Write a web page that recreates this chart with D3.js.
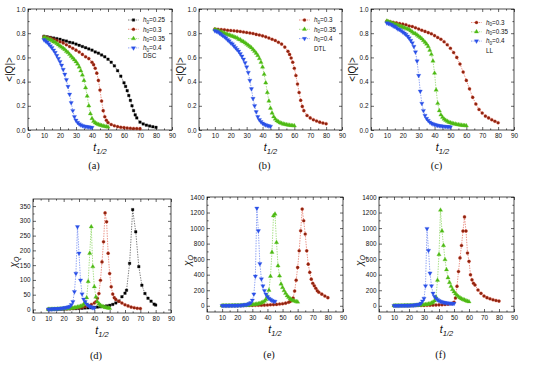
<!DOCTYPE html>
<html>
<head>
<meta charset="utf-8">
<script src="https://cdn.jsdelivr.net/npm/d3@7"></script>
<style>
  body { margin: 0; background: #fff; }
  svg { display: block; font-family: "Liberation Sans", Arial, sans-serif; }
</style>
</head>
<body>
<svg id="fig" width="550" height="365"></svg>
<script>
// ---- data: [t_1/2, value] ----
// (a) DSC  <|Q|>
const dscQ025 = [[10,.775],[12,.77],[14,.765],[16,.76],[18,.755],[20,.75],[22,.74],[24,.735],[26,.725],[28,.72],[30,.71],[32,.70],[34,.69],[36,.68],[38,.67],[40,.66],[42,.645],[44,.635],[46,.62],[48,.605],[50,.585],[52,.56],[54,.53],[56,.49],[58,.445],[60,.39],[61,.36],[62,.325],[63,.285],[64,.245],[65,.2],[66,.16],[67,.125],[68,.1],[70,.065],[72,.05],[74,.04],[76,.033],[78,.027],[80,.022]];
const dscQ030 = [[10,.77],[12,.765],[14,.76],[16,.75],[18,.74],[20,.73],[22,.72],[24,.705],[26,.69],[28,.675],[30,.66],[32,.645],[34,.625],[36,.605],[38,.59],[40,.56],[41,.54],[42,.51],[43,.47],[44,.41],[45,.33],[46,.24],[47,.16],[48,.11],[49,.08],[50,.062],[52,.045],[54,.035],[56,.028],[58,.023],[60,.02],[62,.017],[64,.015],[66,.013],[68,.012],[70,.011]];
const dscQ035 = [[10,.765],[11,.76],[12,.755],[13,.75],[14,.745],[15,.74],[16,.73],[17,.725],[18,.715],[19,.705],[20,.695],[21,.685],[22,.675],[23,.665],[24,.65],[25,.64],[26,.625],[27,.61],[28,.595],[29,.58],[30,.565],[31,.545],[32,.52],[33,.49],[34,.455],[35,.41],[36,.35],[37,.28],[38,.2],[39,.135],[40,.095],[41,.072],[42,.06],[43,.052],[44,.046],[45,.041],[46,.037],[47,.033],[48,.03],[49,.027],[50,.025]];
const dscQ040 = [[10,.745],[11,.735],[12,.725],[13,.71],[14,.695],[15,.68],[16,.66],[17,.64],[18,.615],[19,.59],[20,.565],[21,.535],[22,.5],[23,.46],[24,.415],[25,.36],[26,.295],[27,.225],[28,.16],[29,.11],[30,.08],[31,.062],[32,.05],[33,.042],[34,.036],[35,.032],[36,.029],[37,.026],[38,.024],[39,.022],[40,.02]];

// (b) DTL  <|Q|>
const dtlQ030 = [[10,.835],[12,.832],[14,.83],[16,.828],[18,.825],[20,.822],[22,.82],[24,.817],[26,.814],[28,.81],[30,.806],[32,.802],[34,.797],[36,.79],[38,.785],[40,.778],[42,.77],[44,.76],[46,.75],[48,.74],[50,.725],[52,.71],[54,.685],[56,.65],[57,.625],[58,.595],[59,.56],[60,.51],[61,.45],[62,.38],[63,.31],[64,.245],[65,.195],[66,.16],[68,.12],[70,.1],[72,.085],[74,.075],[76,.065],[78,.058],[80,.052]];
const dtlQ035 = [[10,.83],[11,.825],[12,.82],[13,.815],[14,.81],[15,.805],[16,.8],[17,.795],[18,.79],[19,.785],[20,.78],[21,.775],[22,.77],[23,.765],[24,.76],[25,.75],[26,.745],[27,.735],[28,.73],[29,.72],[30,.71],[31,.70],[32,.69],[33,.68],[34,.665],[35,.65],[36,.635],[37,.615],[38,.59],[39,.56],[40,.52],[41,.46],[42,.39],[43,.31],[44,.24],[45,.18],[46,.14],[47,.11],[48,.09],[49,.077],[50,.068],[51,.06],[52,.055],[53,.05],[54,.047],[55,.044],[56,.042],[57,.04],[58,.038],[59,.036],[60,.035]];
const dtlQ040 = [[10,.82],[11,.815],[12,.81],[13,.8],[14,.79],[15,.78],[16,.77],[17,.76],[18,.745],[19,.735],[20,.72],[21,.71],[22,.695],[23,.68],[24,.665],[25,.65],[26,.63],[27,.61],[28,.585],[29,.555],[30,.52],[31,.475],[32,.41],[33,.34],[34,.26],[35,.2],[36,.15],[37,.11],[38,.085],[39,.068],[40,.056],[41,.048],[42,.042],[43,.037],[44,.033],[45,.03]];

// (c) LL  <|Q|>
const llQ030 = [[10,.9],[12,.895],[14,.89],[16,.885],[18,.88],[20,.875],[22,.87],[24,.86],[26,.855],[28,.845],[30,.835],[32,.825],[34,.815],[36,.805],[38,.795],[40,.78],[42,.765],[44,.75],[46,.73],[48,.705],[50,.675],[52,.64],[54,.6],[56,.545],[58,.48],[60,.41],[62,.34],[64,.27],[66,.215],[68,.17],[70,.14],[72,.115],[74,.1],[76,.085],[78,.072],[80,.06]];
const llQ035 = [[10,.9],[11,.895],[12,.89],[13,.885],[14,.88],[15,.875],[16,.87],[17,.865],[18,.86],[19,.855],[20,.85],[21,.845],[22,.84],[23,.835],[24,.83],[25,.82],[26,.81],[27,.8],[28,.795],[29,.785],[30,.775],[31,.765],[32,.755],[33,.74],[34,.725],[35,.71],[36,.69],[37,.66],[38,.625],[39,.57],[40,.47],[41,.33],[42,.22],[43,.16],[44,.125],[45,.105],[46,.09],[47,.08],[48,.072],[49,.065],[50,.06],[51,.056],[52,.052],[53,.049],[54,.046],[55,.044],[56,.042],[57,.04],[58,.038],[59,.037],[60,.035]];
const llQ040 = [[10,.885],[11,.88],[12,.875],[13,.87],[14,.86],[15,.855],[16,.845],[17,.835],[18,.83],[19,.82],[20,.81],[21,.8],[22,.79],[23,.775],[24,.76],[25,.74],[26,.72],[27,.69],[28,.645],[29,.57],[30,.45],[31,.32],[32,.22],[33,.16],[34,.12],[35,.095],[36,.078],[37,.065],[38,.056],[39,.05],[40,.045],[41,.041],[42,.038],[43,.035],[44,.033],[45,.031],[46,.03],[47,.028],[48,.027],[49,.026],[50,.025]];

// (d) DSC  chi_Q
const dscChi025 = [[10,.5],[12,.5],[14,1],[16,1],[18,1],[20,1.5],[22,2],[24,2],[26,2.5],[28,3],[30,3.5],[32,4],[34,5],[36,5.5],[38,6],[40,7],[42,8],[44,9],[46,10],[48,12],[50,14],[52,17],[54,22],[56,28],[58,43],[60,55],[61,65],[63,156],[65,338],[67,263],[69,145],[71,82],[73,54],[75,38],[77,28],[79,18],[80,15]];
const dscChi030 = [[10,.5],[12,.5],[14,1],[16,1],[18,1.5],[20,2],[22,2.5],[24,3],[26,4],[28,5],[30,6],[32,8],[34,10],[36,13],[38,17],[40,22],[41,26],[42,38],[43,54],[44,99],[45,161],[46,229],[47,327],[48,297],[49,190],[50,122],[51,77],[52,52],[53,40],[54,34],[56,28],[58,22],[60,16],[62,12],[64,8],[66,6],[68,4],[70,3]];
const dscChi035 = [[10,.5],[11,.5],[12,.5],[13,1],[14,1],[15,1],[16,1.5],[17,1.5],[18,2],[19,2],[20,2.5],[21,3],[22,3],[23,3.5],[24,4],[25,4.5],[26,5],[27,6],[28,7],[29,8],[30,9],[31,11],[32,13],[33,17],[34,24],[35,40],[36,95],[37,190],[38,280],[39,145],[40,77],[41,42],[42,26],[43,19],[44,14],[45,11],[46,9],[47,7],[48,6],[49,5],[50,4]];
const dscChi040 = [[10,1],[11,1],[12,1.5],[13,1.5],[14,2],[15,2],[16,2.5],[17,3],[18,3.5],[19,4],[20,5],[21,6],[22,7],[23,8],[24,10],[25,16],[26,26],[27,60],[28,122],[29,280],[30,190],[31,99],[32,52],[33,35],[34,26],[35,18],[36,13],[37,10],[38,8],[39,6],[40,5]];

// (e) DTL  chi_Q
const dtlChi030 = [[10,.5],[12,1],[14,1],[16,1.5],[18,2],[20,2],[22,2.5],[24,3],[26,3.5],[28,4],[30,5],[32,6],[34,7],[36,8],[38,9],[40,11],[42,13],[44,15],[46,18],[48,22],[50,27],[52,34],[54,45],[55,55],[56,70],[57,100],[58,190],[59,330],[60,494],[61,708],[62,966],[63,1245],[64,1094],[65,923],[66,708],[67,536],[68,430],[69,343],[70,290],[71,258],[72,225],[73,193],[74,175],[76,150],[78,125],[80,105]];
const dtlChi035 = [[10,1],[11,1],[12,1],[13,1.5],[14,1.5],[15,2],[16,2],[17,2.5],[18,3],[19,3],[20,3.5],[21,4],[22,4.5],[23,5],[24,6],[25,7],[26,8],[27,9],[28,10],[29,12],[30,14],[31,16],[32,19],[33,22],[34,26],[35,31],[36,38],[37,47],[38,60],[39,80],[40,120],[41,200],[42,380],[43,690],[44,1160],[45,1180],[46,815],[47,515],[48,385],[49,280],[50,235],[51,195],[52,160],[53,130],[54,110],[55,90],[56,78],[57,68],[58,60],[59,55],[60,50]];
const dtlChi040 = [[10,2],[11,2],[12,2],[13,2],[14,2.5],[15,3],[16,3],[17,3.5],[18,4],[19,5],[20,5],[21,6],[22,7],[23,8],[24,10],[25,12],[26,15],[27,20],[28,28],[29,40],[30,70],[31,150],[32,380],[33,1255],[34,965],[35,540],[36,345],[37,255],[38,195],[39,150],[40,115],[41,95],[42,80],[43,68],[44,60],[45,55]];

// (f) LL  chi_Q
const llChi030 = [[10,.5],[12,1],[14,1],[16,1.5],[18,2],[20,2],[22,2.5],[24,3],[26,3.5],[28,4],[30,5],[32,6],[34,7],[36,8.5],[38,10],[40,12],[42,14],[44,17],[46,21],[48,27],[49,32],[50,45],[51,100],[52,250],[53,442],[54,616],[55,776],[56,962],[57,1144],[58,962],[59,680],[60,572],[61,399],[62,334],[63,290],[64,268],[66,204],[68,160],[70,126],[72,105],[74,90],[76,78],[78,68],[80,60]];
const llChi035 = [[10,1],[11,1],[12,1],[13,1.5],[14,1.5],[15,2],[16,2],[17,2.5],[18,3],[19,3],[20,3.5],[21,4],[22,4.5],[23,5],[24,6],[25,7],[26,8],[27,9],[28,10],[29,12],[30,14],[31,16],[32,19],[33,23],[34,28],[35,35],[36,45],[37,65],[38,110],[39,330],[40,660],[41,1231],[42,962],[43,776],[44,594],[45,464],[46,360],[47,300],[48,250],[49,210],[50,180],[51,155],[52,135],[53,118],[54,103],[55,92],[56,82],[57,74],[58,66],[59,58],[60,52]];
const llChi040 = [[10,2],[11,2],[12,2],[13,2],[14,2.5],[15,3],[16,3],[17,3.5],[18,4],[19,4.5],[20,5],[21,6],[22,7],[23,8],[24,10],[25,12],[26,15],[27,20],[28,32],[29,60],[30,95],[31,256],[32,993],[33,711],[34,420],[35,256],[36,160],[37,120],[38,95],[39,78],[40,65],[41,56],[42,49],[43,44],[44,40],[45,37],[46,34],[47,32],[48,30],[49,29],[50,28]];

// ---- axis ticks and labels ----
const tTicks = [0,10,20,30,40,50,60,70,80,90];
const tMinor = [5,15,25,35,45,55,65,75,85];
const qTicks = [0,0.2,0.4,0.6,0.8,1.0];
const qMinor = [0.1,0.3,0.5,0.7,0.9];
const chiTicksD = [0,50,100,150,200,250,300,350];
const chiMinorD = [25,75,125,175,225,275,325];
const chiTicksEF = [0,200,400,600,800,1000,1200,1400];
const chiMinorEF = [100,300,500,700,900,1100,1300];
const models = ['DSC','DTL','LL'];
const captions = ['(a)','(b)','(c)','(d)','(e)','(f)'];

const seriesStyle = {
  '0.25': {line:'#111', fill:'#000', stroke:'#000', shape:d3.symbolSquare, size:6.5, rot:0},
  '0.3':  {line:'#d8361f', fill:'#8a2410', stroke:'#d8361f', shape:d3.symbolCircle, size:7.5, rot:0},
  '0.35': {line:'#5cc520', fill:'#4cb814', stroke:'#5cc520', shape:d3.symbolTriangle, size:8, rot:0},
  '0.4':  {line:'#3157ea', fill:'#2a4fe6', stroke:'#3157ea', shape:d3.symbolTriangle, size:8, rot:180}
};

const panels = [
  {box:[28,9,172,130], dom:[0,1], ticks:qTicks, minor:qMinor, fmt:d3.format('.1f'), kind:'q',
   series:[['0.25',dscQ025],['0.3',dscQ030],['0.35',dscQ035],['0.4',dscQ040]],
   legendY:20, legendDy:9.3, tag:models[0], tagY:58, cap:captions[0]},
  {box:[199,9,342,130], dom:[0,1], ticks:qTicks, minor:qMinor, fmt:d3.format('.1f'), kind:'q',
   series:[['0.3',dtlQ030],['0.35',dtlQ035],['0.4',dtlQ040]],
   legendY:20, legendDy:9.3, tag:models[1], tagY:51, cap:captions[1]},
  {box:[371,9,514,130], dom:[0,1], ticks:qTicks, minor:qMinor, fmt:d3.format('.1f'), kind:'q',
   series:[['0.3',llQ030],['0.35',llQ035],['0.4',llQ040]],
   legendY:22.5, legendDy:9.3, tag:models[2], tagY:53, cap:captions[2]},
  {box:[33,199,171,313], dom:[-12,374], ticks:chiTicksD, minor:chiMinorD, fmt:d3.format('d'), kind:'chi',
   series:[['0.25',dscChi025],['0.3',dscChi030],['0.35',dscChi035],['0.4',dscChi040]], cap:captions[3]},
  {box:[207,197,343,312], dom:[-80,1400], ticks:chiTicksEF, minor:chiMinorEF, fmt:d3.format('d'), kind:'chi',
   series:[['0.3',dtlChi030],['0.35',dtlChi035],['0.4',dtlChi040]], cap:captions[4]},
  {box:[379,197,514,312], dom:[-80,1400], ticks:chiTicksEF, minor:chiMinorEF, fmt:d3.format('d'), kind:'chi',
   series:[['0.3',llChi030],['0.35',llChi035],['0.4',llChi040]], cap:captions[5]}
];

const svg = d3.select('#fig');

function tidy(sel, fontSize) {
  sel.select('.domain').remove();
  sel.selectAll('.tick line').attr('stroke', '#000').attr('stroke-width', 0.6);
  sel.selectAll('.tick text').attr('font-size', fontSize).attr('fill', '#111');
}

function drawPanel(p) {
  const [x0, y0, x1, y1] = p.box;
  const x = d3.scaleLinear().domain([0, 90]).range([x0, x1]);
  const y = d3.scaleLinear().domain(p.dom).range([y1, y0]);
  const g = svg.append('g');

  // major + minor ticks on all four sides, pointing inwards
  g.append('g').attr('transform', `translate(0,${y1})`)
    .call(d3.axisBottom(x).tickValues(tTicks).tickSize(-3).tickPadding(3)).call(tidy, 6.4);
  g.append('g').attr('transform', `translate(0,${y1})`)
    .call(d3.axisBottom(x).tickValues(tMinor).tickSize(-1.6).tickFormat('')).call(tidy, 0);
  g.append('g').attr('transform', `translate(0,${y0})`)
    .call(d3.axisTop(x).tickValues(tTicks).tickSize(-3).tickFormat('')).call(tidy, 0);
  g.append('g').attr('transform', `translate(0,${y0})`)
    .call(d3.axisTop(x).tickValues(tMinor).tickSize(-1.6).tickFormat('')).call(tidy, 0);
  g.append('g').attr('transform', `translate(${x0},0)`)
    .call(d3.axisLeft(y).tickValues(p.ticks).tickSize(-3).tickPadding(2.5).tickFormat(p.fmt)).call(tidy, 6.4);
  g.append('g').attr('transform', `translate(${x0},0)`)
    .call(d3.axisLeft(y).tickValues(p.minor).tickSize(-1.6).tickFormat('')).call(tidy, 0);
  g.append('g').attr('transform', `translate(${x1},0)`)
    .call(d3.axisRight(y).tickValues(p.ticks).tickSize(-3).tickFormat('')).call(tidy, 0);
  g.append('g').attr('transform', `translate(${x1},0)`)
    .call(d3.axisRight(y).tickValues(p.minor).tickSize(-1.6).tickFormat('')).call(tidy, 0);

  g.append('rect')
    .attr('x', x0).attr('y', y0)
    .attr('width', x1 - x0).attr('height', y1 - y0)
    .attr('fill', 'none').attr('stroke', '#000').attr('stroke-width', 0.7);

  // curves
  const line = d3.line().x(d => x(d[0])).y(d => y(d[1]));
  p.series.forEach(([h, data]) => {
    const s = seriesStyle[h];
    g.append('path')
      .datum(data)
      .attr('d', line)
      .attr('fill', 'none')
      .attr('stroke', s.line)
      .attr('stroke-width', 0.55)
      .attr('stroke-dasharray', '1.4,1.2');
    g.append('g').selectAll('path')
      .data(data)
      .enter()
      .append('path')
      .attr('d', d3.symbol().type(s.shape).size(s.size))
      .attr('transform', d => `translate(${x(d[0])},${y(d[1])}) rotate(${s.rot})`)
      .attr('fill', s.fill)
      .attr('stroke', s.stroke)
      .attr('stroke-width', 0.3);
  });

  // legend (top row only)
  if (p.kind === 'q') {
    p.series.forEach(([h], i) => {
      const s = seriesStyle[h];
      const ly = p.legendY + i * p.legendDy;
      g.append('line')
        .attr('x1', x0 + 100).attr('x2', x0 + 111)
        .attr('y1', ly).attr('y2', ly)
        .attr('stroke', s.line).attr('stroke-width', 0.55)
        .attr('stroke-dasharray', '1.4,1.2');
      g.append('path')
        .attr('d', d3.symbol().type(s.shape).size(s.size))
        .attr('transform', `translate(${x0 + 105.5},${ly}) rotate(${s.rot})`)
        .attr('fill', s.fill).attr('stroke', s.stroke).attr('stroke-width', 0.3);
      const t = g.append('text')
        .attr('x', x0 + 115).attr('y', ly + 2.2)
        .attr('font-size', 6.3).attr('fill', '#111');
      t.append('tspan').attr('font-style', 'italic').text('h');
      t.append('tspan').attr('font-size', 4.6).attr('dy', 1.4).text('0');
      t.append('tspan').attr('dy', -1.4).text('=' + h);
    });
    g.append('text')
      .attr('x', x0 + 115).attr('y', p.tagY)
      .attr('font-size', 6.3).attr('fill', '#111')
      .text(p.tag);
  }

  // y label
  const cy = (y0 + y1) / 2;
  if (p.kind === 'q') {
    g.append('text')
      .attr('transform', `translate(${x0 - 15},${cy}) rotate(-90)`)
      .attr('text-anchor', 'middle')
      .attr('font-size', 10).attr('fill', '#111')
      .text('<|Q|>');
  } else {
    const t = g.append('text')
      .attr('transform', `translate(${x0 - 16},${cy + 6}) rotate(-90)`)
      .attr('text-anchor', 'middle')
      .attr('font-size', 10).attr('fill', '#111');
    t.append('tspan').attr('font-style', 'italic').text('χ');
    t.append('tspan').attr('font-size', 7).attr('font-style', 'italic').attr('dy', 2).text('Q');
  }

  // x label
  const cx = (x0 + x1) / 2;
  const xl = g.append('text')
    .attr('x', cx).attr('y', y1 + 21)
    .attr('text-anchor', 'middle')
    .attr('font-size', 10.5).attr('font-style', 'italic').attr('fill', '#111');
  xl.append('tspan').text('t');
  xl.append('tspan').attr('font-size', 7.5).attr('dy', 2.5).text('1/2');

  // caption
  g.append('text')
    .attr('x', cx - 6).attr('y', y1 + (p.kind === 'q' ? 39 : 46))
    .attr('text-anchor', 'middle')
    .attr('font-family', '"Liberation Serif", "Times New Roman", serif')
    .attr('font-size', 10.5).attr('fill', '#111')
    .text(p.cap);
}

panels.forEach(drawPanel);
</script>
</body>
</html>
